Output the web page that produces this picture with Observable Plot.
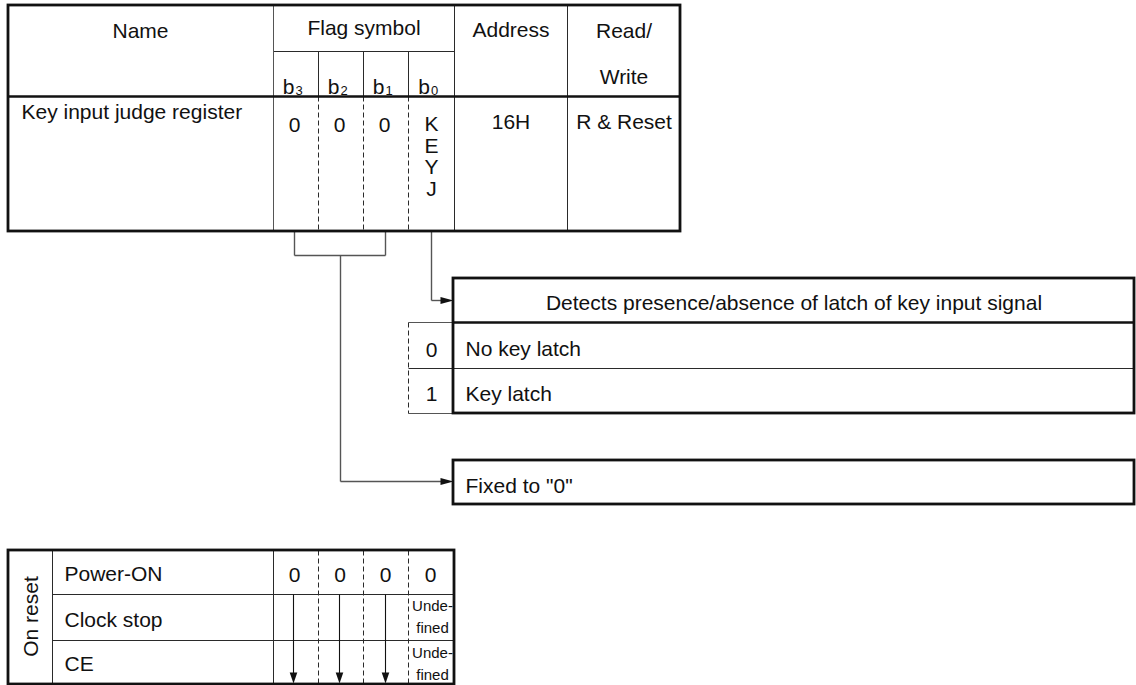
<!DOCTYPE html>
<html>
<head>
<meta charset="utf-8">
<script src="https://cdn.jsdelivr.net/npm/d3@7"></script>
<script src="https://cdn.jsdelivr.net/npm/@observablehq/plot@0.6"></script>
<style>
  html, body { margin: 0; padding: 0; background: #fff; }
  #chart svg { display: block; }
</style>
</head>
<body>
<div id="chart"></div>
<script>
// ---------- DATA (content of the register diagram) ----------
const headerLabels = ["Name", "Flag symbol", "Address", "Read/", "Write"];
const bitNames = ["3", "2", "1", "0"];
const registerName = "Key input judge register";
const bitSymbols = ["0", "0", "0", "KEYJ"];
const registerAddress = "16H";
const registerAccess = "R & Reset";
const keyjDescription = "Detects presence/absence of latch of key input signal";
const keyjStates = ["0", "1"];
const keyjMeanings = ["No key latch", "Key latch"];
const fixedDescription = 'Fixed to "0"';
const resetGroup = "On reset";
const resetConditions = ["Power-ON", "Clock stop", "CE"];
const powerOnValues = ["0", "0", "0", "0"];
const undefinedLabel = ["Unde-", "fined"];

// ---------- LAYOUT ----------
const W = 1136, H = 685;
const FONT = "'Liberation Sans', Arial, Helvetica, sans-serif";
const FS = 21;
const mid = (baseline, fs) => baseline - 0.32 * fs;

const tL = 8, tR = 680, tT = 5, tH1 = 51, tH2 = 96, tB = 231;
const colName = 273, bitDiv = [318, 363, 408], colAddr = 454, colRW = 567;
const bitCenters = [295.5, 340.5, 385.5, 431];

const bxL = 453, bxR = 1134, bxT = 278, bxH = 322, bxM = 368, bxB = 413;
const fxT = 460, fxB = 504;
const dashL = 408;

const rT = 550, rB = 684, rRows = [594, 640], rGroup = 52;

const ink = "#111", thin = "#2a2a2a", grey = "#555";

const thickRects = [
  {x1: tL, x2: tR, y1: tT, y2: tB},
  {x1: bxL, x2: bxR, y1: bxT, y2: bxB},
  {x1: bxL, x2: bxR, y1: fxT, y2: fxB},
  {x1: tL, x2: colAddr, y1: rT, y2: rB}
];
const thickLines = [
  {x1: tL, y1: tH2, x2: tR, y2: tH2},
  {x1: bxL, y1: bxH, x2: bxR, y2: bxH}
];
const thinLines = [
  {x1: colAddr, y1: tT, x2: colAddr, y2: tB},
  {x1: colRW, y1: tT, x2: colRW, y2: tB},
  {x1: colName, y1: tH1, x2: colAddr, y2: tH1},
  ...bitDiv.map(x => ({x1: x, y1: tH1, x2: x, y2: tH2})),
  {x1: dashL, y1: bxM, x2: bxR, y2: bxM},
  {x1: rGroup, y1: rT, x2: rGroup, y2: rB},
  {x1: colName, y1: rT, x2: colName, y2: rB},
  ...rRows.map(y => ({x1: rGroup, y1: y, x2: colAddr, y2: y}))
];
const greyLines = [
  {x1: colName, y1: tT, x2: colName, y2: tB},
  {x1: dashL, y1: bxH, x2: bxL, y2: bxH},
  {x1: dashL, y1: bxB, x2: bxL, y2: bxB}
];
const dashedLines = [
  ...bitDiv.map(x => ({x1: x, y1: tH2, x2: x, y2: tB})),
  {x1: dashL, y1: bxH, x2: dashL, y2: bxB},
  ...bitDiv.map(x => ({x1: x, y1: rT, x2: x, y2: rB}))
];
// connectors from the flag bits to the explanation boxes
const arrowY1 = 300, arrowY2 = 481, bracketY = 255, bracketX = 340;
const connectors = [
  {x1: 294, y1: tB, x2: 294, y2: bracketY},
  {x1: 294, y1: bracketY, x2: 385, y2: bracketY},
  {x1: 385, y1: bracketY, x2: 385, y2: tB},
  {x1: bracketX, y1: bracketY, x2: bracketX, y2: arrowY2},
  {x1: bracketX, y1: arrowY2, x2: bxL - 10, y2: arrowY2},
  {x1: 431, y1: tB, x2: 431, y2: arrowY1},
  {x1: 431, y1: arrowY1, x2: bxL - 10, y2: arrowY1}
];
const rightHeads = [{x: bxL, y: arrowY1}, {x: bxL, y: arrowY2}];
const downX = [293, 339, 385];
const downShafts = downX.map(x => ({x1: x, y1: rRows[0], x2: x, y2: 674}));
const downHeads = downX.map(x => ({x, y: 683}));

const arrowHead = {
  draw(ctx) {
    ctx.moveTo(0, 0);
    ctx.lineTo(-13, -3.5);
    ctx.lineTo(-13, 3.5);
    ctx.closePath();
  }
};
const downHead = {
  draw(ctx) {
    ctx.moveTo(0, 0);
    ctx.lineTo(-3.8, -11);
    ctx.lineTo(3.8, -11);
    ctx.closePath();
  }
};

const link = (data, stroke, sw, extra = {}) =>
  Plot.link(data, {x1: "x1", y1: "y1", x2: "x2", y2: "y2", stroke, strokeWidth: sw, ...extra});

const txt = (data, opts) => Plot.text(data, {text: d => d, fill: ink, fontSize: FS, ...opts});

// the KEYJ flag name is written vertically, one letter per line
const keyjVertical = bitSymbols[3].split("").join("\n");
const undefinedRows = [[610, 632], [657, 679]];

const chart = Plot.plot({
  width: W,
  height: H,
  margin: 0,
  x: {type: "identity", axis: null},
  y: {type: "identity", axis: null},
  style: {fontFamily: FONT, background: "#fff", overflow: "visible"},
  marks: [
    // lines
    link(thinLines, thin, 1),
    link(greyLines, grey, 1),
    link(dashedLines, thin, 1, {strokeDasharray: "5,3"}),
    link(connectors, grey, 1.4),
    link(downShafts, ink, 1.1),
    Plot.dot(rightHeads, {x: "x", y: "y", symbol: arrowHead, fill: ink, stroke: null, r: 5}),
    Plot.dot(downHeads, {x: "x", y: "y", symbol: downHead, fill: ink, stroke: null, r: 5}),
    link(thickLines, ink, 2.7),
    Plot.rect(thickRects, {x1: "x1", x2: "x2", y1: "y1", y2: "y2", fill: "none", stroke: ink, strokeWidth: 2.8}),

    // header texts
    txt([headerLabels[0]], {x: 140, y: mid(37, FS)}),
    txt([headerLabels[1]], {x: 363.5, y: mid(34, FS)}),
    txt([headerLabels[2]], {x: 510.5, y: mid(36, FS)}),
    txt([headerLabels[3]], {x: 623.5, y: mid(37, FS)}),
    txt([headerLabels[4]], {x: 623.5, y: mid(83, FS)}),
    txt(bitNames.map(() => "b"), {x: (d, i) => bitCenters[i] - 1.5, y: mid(93, FS), textAnchor: "end"}),
    txt(bitNames, {x: (d, i) => bitCenters[i] - 0.5, y: mid(94, 13), fontSize: 13, textAnchor: "start"}),

    // register row
    txt([registerName], {x: 21, y: mid(118, FS), textAnchor: "start"}),
    txt(bitSymbols.slice(0, 3), {x: (d, i) => bitCenters[i] - 1.5, y: mid(131, FS)}),
    txt([keyjVertical], {x: 431, y: 130 - 0.71 * FS, lineAnchor: "top", lineHeight: 1.03}),
    txt([registerAddress], {x: 510.5, y: mid(128, FS)}),
    txt([registerAccess], {x: 623.5, y: mid(128, FS)}),

    // KEYJ explanation box
    txt([keyjDescription], {x: (bxL + bxR) / 2, y: mid(309, FS)}),
    txt(keyjStates, {x: 431, y: (d, i) => mid([356, 400][i], FS)}),
    txt(keyjMeanings, {x: 465, y: (d, i) => mid([355, 400][i], FS), textAnchor: "start"}),
    txt([fixedDescription], {x: 465, y: mid(492, FS), textAnchor: "start"}),

    // reset table
    txt([resetGroup], {x: 31, y: (rT + rB) / 2 - 1, rotate: -90}),
    txt(resetConditions, {x: 64, y: (d, i) => mid([580, 626, 670][i], FS), textAnchor: "start"}),
    txt(powerOnValues, {x: (d, i) => [294, 339.5, 385, 430][i], y: mid(581, FS)}),
    txt(undefinedRows.flatMap(r => undefinedLabel.map((s, j) => ({s, b: r[j]}))), {
      text: d => d.s, x: 432, y: d => mid(d.b, 15), fontSize: 15
    })
  ]
});

document.getElementById("chart").appendChild(chart);
</script>
</body>
</html>
